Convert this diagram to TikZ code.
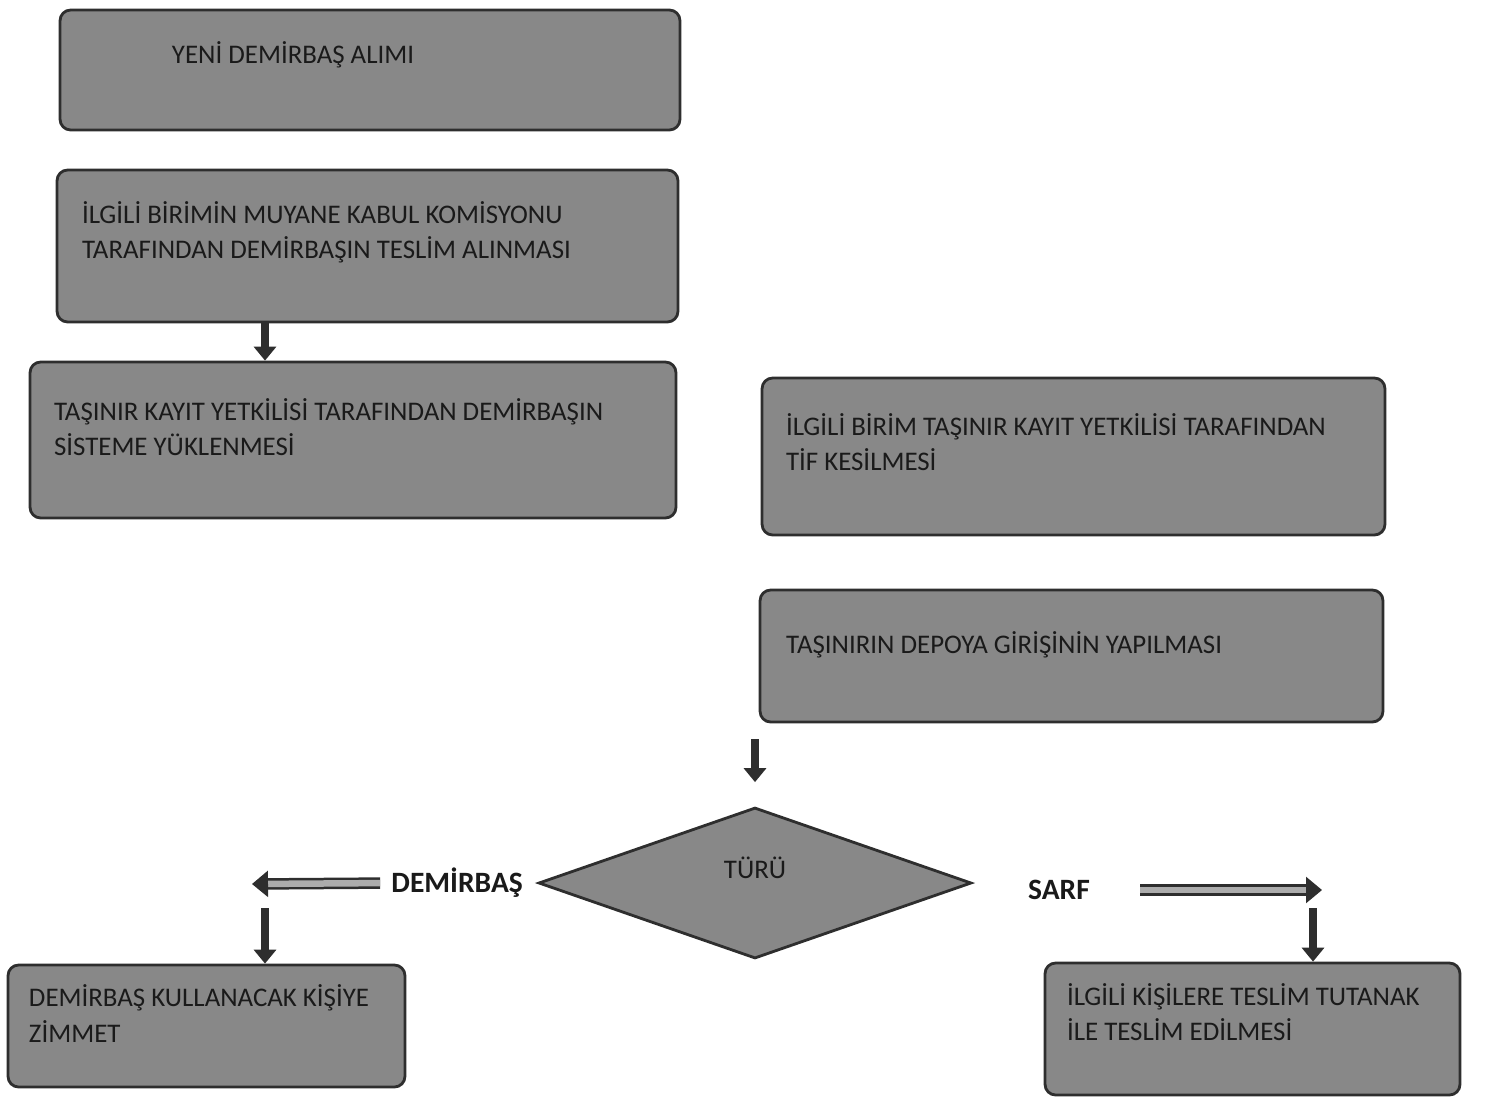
\documentclass[tikz,border=0pt]{standalone}
\usepackage{fontspec}
\setmainfont{Carlito}
\usetikzlibrary{arrows.meta, positioning, shapes.geometric}
\definecolor{kutuGri}{HTML}{888888}
\definecolor{kutuKenar}{HTML}{2E2E2E}
\definecolor{yaziKoyu}{HTML}{1A1A1A}
\tikzset{
  okK/.style={-{Triangle[length=0.28cm, width=0.44cm]}, draw=kutuKenar, line width=0.15cm},
  okBlok/.style={-{Triangle[length=0.32cm, width=0.52cm, fill=kutuKenar]}, draw=kutuKenar,
                 line width=0.05cm, double=kutuGri!70, double distance=0.13cm},
  kutu/.style={rectangle, rounded corners=6pt, draw=kutuKenar, fill=kutuGri,
               line width=1.6pt, inner sep=0pt},
  yazi/.style={anchor=west, align=left, inner sep=0pt, text=yaziKoyu,
               font=\fontsize{15.3}{20}\selectfont},
  secim/.style={diamond, draw=kutuKenar, fill=kutuGri, line width=1.6pt, inner sep=0pt},
  dal/.style={font=\fontsize{16.8}{20}\selectfont\bfseries, text=yaziKoyu, inner sep=0pt},
}

\begin{document}
\begin{tikzpicture}[x=0.02cm, y=-0.02cm]
    \useasboundingbox (0,0) rectangle (1486,1102);

    % Sol sütun
    \node[kutu, minimum width=12.4cm, minimum height=2.4cm] (alim) at (370,70) {};
    \node[yazi] (alimY) at ([xshift=2.26cm, yshift=0.3cm]alim.west) {YENİ DEMİRBAŞ ALIMI};
    \node[kutu, minimum width=12.42cm, minimum height=3.04cm] (kabul) at (367.5,246) {};
    \node[yazi] (kabulY) at ([xshift=0.52cm, yshift=0.27cm]kabul.west)
         {İLGİLİ BİRİMİN MUYANE KABUL KOMİSYONU\\TARAFINDAN DEMİRBAŞIN TESLİM ALINMASI};
    \node[kutu, minimum width=12.92cm, minimum height=3.12cm] (yukle) at (353,440) {};
    \node[yazi] (yukleY) at ([xshift=0.5cm, yshift=0.25cm]yukle.west)
         {TAŞINIR KAYIT YETKİLİSİ TARAFINDAN DEMİRBAŞIN\\SİSTEME YÜKLENMESİ};
    \coordinate (solAlt) at (265,908);
    \draw[okK] (kabul.south -| solAlt) -- (yukle.north -| solAlt);

    % Sağ sütun
    \node[kutu, minimum width=12.46cm, minimum height=3.14cm] (tif) at (1073.5,456.5) {};
    \node[yazi] (tifY) at ([xshift=0.5cm, yshift=0.28cm]tif.west)
         {İLGİLİ BİRİM TAŞINIR KAYIT YETKİLİSİ TARAFINDAN\\TİF KESİLMESİ};
    \node[kutu, minimum width=12.46cm, minimum height=2.64cm] (depo) at (1071.5,656) {};
    \node[yazi] (depoY) at ([xshift=0.54cm, yshift=0.22cm]depo.west)
         {TAŞINIRIN DEPOYA GİRİŞİNİN YAPILMASI};

    % Karar
    \node[secim, minimum width=8.66cm, minimum height=3.02cm] (tur) at (755,883) {};
    \node[yazi, anchor=center] (turY) at ([yshift=0.3cm]tur.center) {TÜRÜ};
    \draw[okK, shorten <=0.32cm, shorten >=0.48cm] (depo.south -| tur.north) -- (tur.north);

    % Demirbaş kolu
    \node[dal, left=0.28cm of tur] (demirbas) {DEMİRBAŞ};
    \coordinate (solUc) at (252,884);
    \draw[okBlok, shorten <=0.22cm] (demirbas.west) -- (solUc);
    \node[kutu, minimum width=7.94cm, minimum height=2.44cm] (zimmet) at (206.5,1026) {};
    \node[yazi] (zimmetY) at ([xshift=0.44cm, yshift=0.25cm]zimmet.west)
         {DEMİRBAŞ KULLANACAK KİŞİYE\\ZİMMET};
    \draw[okK] (solAlt) -- (solAlt |- zimmet.north);

    % Sarf kolu
    \node[dal, right=1.1cm of tur, yshift=-0.14cm] (sarf) {SARF};
    \coordinate (sagUc) at (1322,890);
    \coordinate (sagAlt) at (1313,908);
    \draw[okBlok, shorten <=1.0cm] (sarf.east |- sagUc) -- (sagUc);
    \node[kutu, minimum width=8.3cm, minimum height=2.64cm] (tutanak) at (1252.5,1029) {};
    \node[yazi] (tutanakY) at ([xshift=0.46cm, yshift=0.33cm]tutanak.west)
         {İLGİLİ KİŞİLERE TESLİM TUTANAK\\İLE TESLİM EDİLMESİ};
    \draw[okK] (sagAlt) -- (sagAlt |- tutanak.north);
\end{tikzpicture}
\end{document}
